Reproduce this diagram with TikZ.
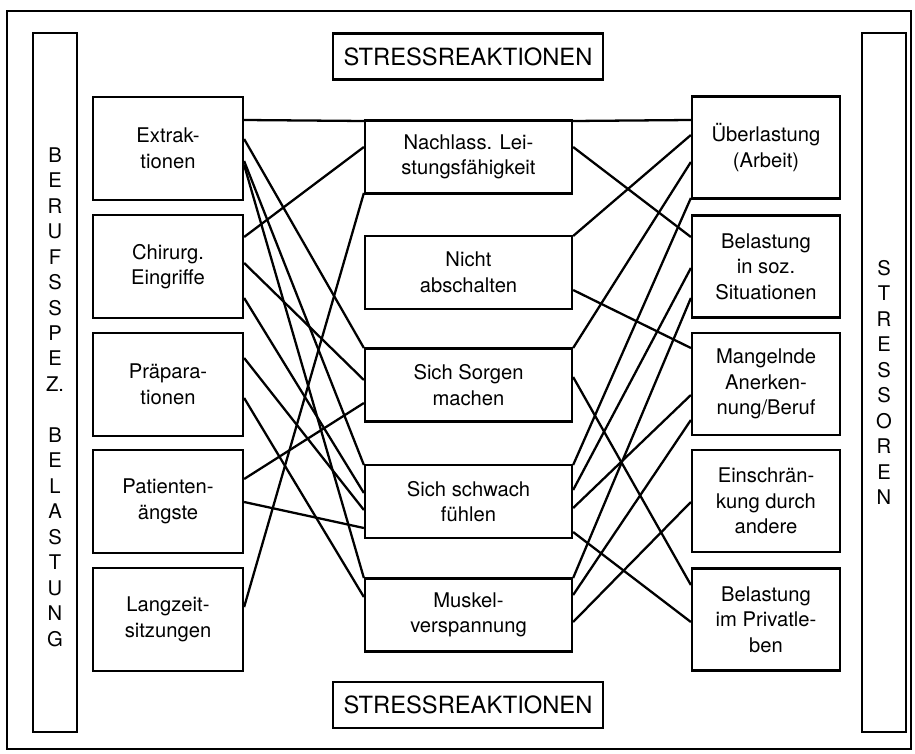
\documentclass[tikz,border=0pt]{standalone}
\usepackage{fontspec}
\setmainfont{TeX Gyre Heros}
\begin{document}
\begin{tikzpicture}[x=0.02cm, y=-0.02cm, line width=1.3pt,
    box/.style={draw, rectangle, inner sep=0pt, align=center, font=\fontsize{11.5}{14.5}\selectfont},
    lbox/.style={box, minimum width=3cm, minimum height=2.06cm},
    mbox/.style={box, minimum width=4.14cm, minimum height=1.46cm},
    rbox/.style={box, minimum width=2.96cm, minimum height=2.04cm},
    sidebox/.style={box, minimum width=0.88cm, minimum height=13.98cm},
    titlebox/.style={box, minimum width=5.4cm, minimum height=0.92cm, font=\fontsize{13.5}{16}\selectfont}]
      \useasboundingbox (0,0) rectangle (915,753);
      % Frame:
      \draw (7,11) rectangle (911,749);
      \node[sidebox] (beruf) at (55,382.5) {};
      \node[box, draw=none] at (55,397) {B\\E\\R\\U\\F\\S\\S\\P\\E\\Z.\\[14.5pt]B\\E\\L\\A\\S\\T\\U\\N\\G};
      \node[sidebox] (stress) at (884,382.5) {S\\T\\R\\E\\S\\S\\O\\R\\E\\N};
      \node[titlebox] (top) at (468,56.5) {STRESSREAKTIONEN};
      \node[titlebox] (bottom) at (468,705) {STRESSREAKTIONEN};
      % Belastungen:
      \node[lbox] (ext) at (168,148.5) {Extrak-\\tionen};
      \node[lbox] (chir) at (168,266.5) {Chirurg.\\Eingriffe};
      \node[lbox] (prae) at (168,384.5) {Präpara-\\tionen};
      \node[lbox] (pat) at (168,501.5) {Patienten-\\ängste};
      \node[lbox] (lang) at (168,619.5) {Langzeit-\\sitzungen};
      % Reaktionen:
      \node[mbox] (nach) at (468.5,157) {Nachlass. Lei-\\stungsfähigkeit};
      \node[mbox] (nicht) at (468.5,272.5) {Nicht\\abschalten};
      \node[mbox] (sorg) at (468.5,385) {Sich Sorgen\\machen};
      \node[mbox] (schw) at (468.5,501.5) {Sich schwach\\fühlen};
      \node[mbox] (musk) at (468.5,615) {Muskel-\\verspannung};
      % Stressoren:
      \node[rbox] (ueb) at (766,147.5) {Überlastung\\(Arbeit)};
      \node[rbox] (soz) at (766,266.5) {Belastung\\in soz.\\Situationen};
      \node[rbox] (mang) at (766,384) {Mangelnde\\Anerken-\\nung/Beruf};
      \node[rbox] (ein) at (766,501) {Einschrän-\\kung durch\\andere};
      \node[rbox] (priv) at (766,619.5) {Belastung\\im Privatle-\\ben};
      % Lines:
      \foreach \a/\ya/\b/\yb in {ext/120/nach/121, ext/139/sorg/348, ext/161/schw/465, ext/165/musk/578,
          chir/237/nach/147, chir/263/sorg/380, chir/298/schw/493, prae/358/schw/510, prae/398/musk/597,
          pat/479/sorg/403, pat/502/schw/528, lang/607/nach/193,
          nach/121/ueb/120, nach/147/soz/237, nicht/236/ueb/135, nicht/290/mang/348,
          sorg/348/ueb/162, sorg/377/priv/585, schw/465/ueb/198, schw/490/soz/268,
          schw/508/mang/395, schw/532/priv/622, musk/578/soz/298, musk/595/mang/420, musk/622/ein/502}
        \draw (\a.east |- 0,\ya) -- (\b.west |- 0,\yb);
    \end{tikzpicture}
\end{document}
